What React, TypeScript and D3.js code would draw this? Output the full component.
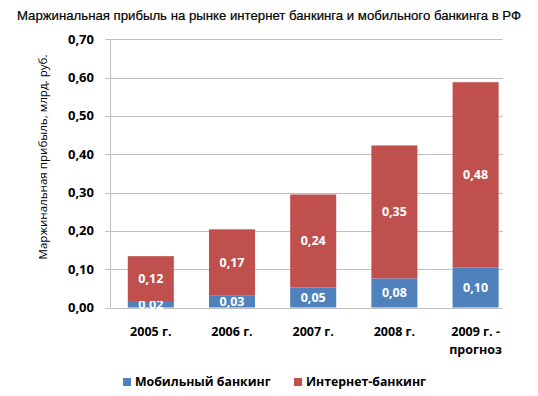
import React, { useRef, useEffect } from 'react';
import * as d3 from 'd3';

// Данные графика
const categories = ['2005 г.', '2006 г.', '2007 г.', '2008 г.', '2009 г. - прогноз'];
const mobile = [0.017, 0.032, 0.052, 0.076, 0.104];
const internet = [0.117, 0.172, 0.243, 0.347, 0.484];
const yTicks = [0, 0.1, 0.2, 0.3, 0.4, 0.5, 0.6, 0.7];
const seriesNames = ['Мобильный банкинг', 'Интернет-банкинг'];
const colors = ['#4F81BD', '#C0504D'];

const W = 538;
const H = 396;
const FONT = "'Open Sans', 'Noto Sans', sans-serif";

const App: React.FC = () => {
  const svgRef = useRef<SVGSVGElement | null>(null);

  useEffect(() => {
    if (!svgRef.current) return;
    const svg = d3.select(svgRef.current);
    svg.selectAll('*').remove();

    const plot = { left: 110.3, right: 503, top: 39.3, bottom: 307.5 };

    const x = d3.scaleBand<string>()
      .domain(categories)
      .range([110.2, 516.2])
      .paddingInner(0.433)
      .paddingOuter(0.2165);

    const y = d3.scaleLinear()
      .domain([0, 0.7])
      .range([plot.bottom, plot.top]);

    // заголовок
    svg.append('text')
      .attr('x', 269)
      .attr('y', 20)
      .attr('text-anchor', 'middle')
      .attr('font-family', "'Liberation Sans', sans-serif")
      .attr('font-size', 13.2)
      .attr('fill', '#000')
      .attr('stroke', '#000')
      .attr('stroke-width', 0.2)
      .text('Маржинальная прибыль на рынке интернет банкинга и мобильного банкинга в РФ');

    // сетка
    svg.append('g')
      .selectAll('line')
      .data(yTicks)
      .enter().append('line')
      .attr('x1', plot.left - 5)
      .attr('x2', plot.right)
      .attr('y1', d => Math.round(y(d)) + 0.5)
      .attr('y2', d => Math.round(y(d)) + 0.5)
      .attr('stroke', '#BFBFBF')
      .attr('stroke-width', 1);

    // ось Y
    svg.append('line')
      .attr('x1', 110.5).attr('x2', 110.5)
      .attr('y1', plot.top).attr('y2', plot.bottom)
      .attr('stroke', '#BFBFBF');

    svg.append('g')
      .selectAll('text')
      .data(yTicks)
      .enter().append('text')
      .attr('x', 94)
      .attr('y', d => y(d))
      .attr('dy', '0.35em')
      .attr('text-anchor', 'end')
      .attr('font-family', FONT)
      .attr('font-size', 13)
      .attr('font-weight', 'bold')
      .attr('fill', '#000')
      .text(d => d3.format('.2f')(d).replace('.', ','));

    svg.append('text')
      .attr('transform', `translate(47,${(57 + 257) / 2}) rotate(-90)`)
      .attr('text-anchor', 'middle')
      .attr('font-family', FONT)
      .attr('font-size', 11.6)
      .attr('fill', '#000')
      .text('Маржинальная прибыль, млрд. руб.');

    // стек
    const rows = categories.map((c, i) => ({ cat: c, m: mobile[i], n: internet[i] }));
    const stack = d3.stack<typeof rows[0]>().keys(['m', 'n'])(rows);

    stack.forEach((layer, li) => {
      const g = svg.append('g');
      g.selectAll('rect')
        .data(layer)
        .enter().append('rect')
        .attr('x', d => x(d.data.cat)!)
        .attr('y', d => y(d[1]))
        .attr('width', x.bandwidth())
        .attr('height', d => y(d[0]) - y(d[1]))
        .attr('fill', colors[li]);

      g.selectAll('text')
        .data(layer)
        .enter().append('text')
        .attr('x', d => x(d.data.cat)! + x.bandwidth() / 2)
        .attr('y', d => (y(d[0]) + y(d[1])) / 2)
        .attr('dy', '0.35em')
        .attr('text-anchor', 'middle')
        .attr('font-family', FONT)
        .attr('font-size', 12.5)
        .attr('font-weight', 'bold')
        .attr('fill', '#fff')
        .text(d => d3.format('.2f')(d[1] - d[0]).replace('.', ','));
    });

    // подписи категорий
    const xl = svg.append('g');
    categories.forEach(c => {
      const parts = c.includes(' - ') ? [c.split(' - ')[0] + ' -', c.split(' - ')[1]] : [c];
      const t = xl.append('text')
        .attr('x', x(c)! + x.bandwidth() / 2)
        .attr('y', 336)
        .attr('text-anchor', 'middle')
        .attr('font-family', FONT)
        .attr('font-size', 12.5)
        .attr('font-weight', 'bold')
        .attr('fill', '#000');
      parts.forEach((p, i) => {
        t.append('tspan')
          .attr('x', x(c)! + x.bandwidth() / 2)
          .attr('dy', i === 0 ? 0 : 17.5)
          .text(p);
      });
    });

    // легенда
    const legendX = [123, 294];
    seriesNames.forEach((s, i) => {
      svg.append('rect')
        .attr('x', legendX[i])
        .attr('y', 378)
        .attr('width', 8)
        .attr('height', 8)
        .attr('fill', colors[i]);
      svg.append('text')
        .attr('x', legendX[i] + 12)
        .attr('y', 382)
        .attr('dy', '0.35em')
        .attr('font-family', FONT)
        .attr('font-size', 12.3)
        .attr('font-weight', 'bold')
        .attr('fill', '#000')
        .text(s);
    });
  }, []);

  return (
    <svg ref={svgRef} width={W} height={H}
      style={{ position: 'absolute', left: 0, top: 0, background: '#fff' }} />
  );
};

export default App;
